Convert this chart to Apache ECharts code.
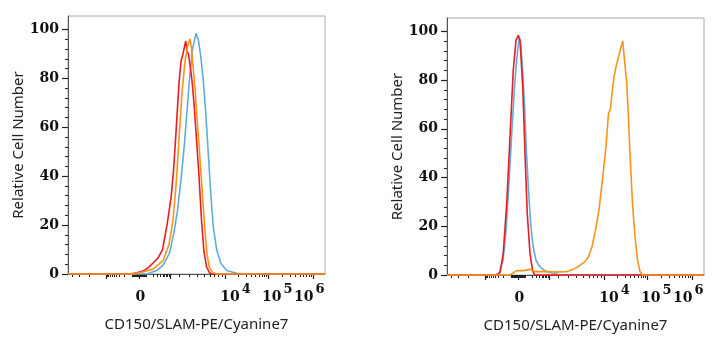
<!DOCTYPE html>
<html>
<head>
<meta charset="utf-8">
<script src="https://cdn.jsdelivr.net/npm/echarts@6/dist/echarts.min.js"></script>
<style>
  html, body { margin: 0; background: #fff; }
  #chart { width: 722px; height: 350px; }
</style>
</head>
<body>
<div id="chart"></div>
<script>
// x axis is in display channels (0..1028) of a biexponential scale
const xMax = 1028;
const yMax = 105.5;
// anchors of the biexponential scale: fluorescence value -> channel
const scaleVals = [-1e4, -1000, -100, 100, 1000, 2000, 3000, 1e4, 1e5, 1e6];
const scaleCh = [-70, 152, 256, 312, 408, 444, 484, 630, 802, 982];
const majorTicks = [-1000, 0, 1000, 1e4, 1e5, 1e6];
const labelChannels = [289, 670, 837, 965];
const labelBase = ['0', '10', '10', '10'];
const labelExp = ['', '4', '5', '6'];
const yLabels = [0, 20, 40, 60, 80, 100];
const yMinor = [4, 8, 12, 16, 24, 28, 32, 36, 44, 48, 52, 56, 64, 68, 72, 76, 84, 88, 92, 96];

const xTitle = 'CD150/SLAM-PE/Cyanine7';
const yTitle = 'Relative Cell Number';

// left panel: [channel, relative count]
const leftBlue = [[0,0],[315,0],[355,1.4],[381,3.7],[406,8.5],[424,17],[438,26],[452,38.5],[466,53.5],[477,68],[487,80.8],[498,91.8],[512,98.4],[521,95.9],[531,89],[541,79.5],[551,65.8],[561,49.5],[571,33],[581,19.4],[595,9.8],[611,4.4],[635,1.4],[675,0.3],[715,0],[1028,0]];
const leftRed = [[0,0],[248,0],[276,0.5],[300,1.2],[320,2.5],[340,4.5],[360,6.5],[378,10],[396,20],[412,31],[422,42],[432,58],[444,78],[452,87],[460,90],[466,93],[471,95.3],[476,91],[482,90],[490,84],[496,79],[504,70],[514,55],[524,40],[534,22],[544,9],[554,3],[566,0.5],[576,0],[1028,0]];
const leftOrange = [[0,0],[260,0],[300,0.8],[340,2],[380,5.5],[404,12],[420,22],[432,36],[444,55],[456,74],[468,87],[478,93],[488,96.2],[494,92],[500,85],[508,76],[516,64],[526,50],[536,35],[546,20],[556,8],[566,2.5],[580,0.5],[600,0],[1028,0]];

// right panel
const rightBlue = [[0,0],[192,0],[208,0.5],[224,6],[236,18],[248,38],[260,60],[272,80],[282,92],[290,97.5],[296,94],[302,85],[310,70],[318,50],[326,35],[334,22],[344,12],[356,6],[372,3.2],[396,1.5],[420,0.8],[452,0],[1028,0]];
const rightRed = [[0,0],[196,0],[212,1],[225,8.9],[239,29.5],[252,56.7],[265,84],[276,96.3],[285,98.4],[292,96.3],[303,77.2],[312,49.8],[321,25.3],[332,8.9],[343,1.4],[352,0],[1028,0]];
const rightOrange = [[0,0],[252,0],[279,1.8],[305,1.8],[332,2.3],[352,1.4],[392,1.5],[432,1.2],[479,1.4],[504,2.3],[524,3.4],[552,5.5],[566,7.5],[580,11.6],[594,18.4],[608,26.6],[620,37.6],[636,52.6],[646,66.3],[654,68.3],[660,74.4],[668,81.3],[676,85.4],[686,89.5],[696,93.6],[703,96.1],[710,88.1],[718,79.9],[724,69],[732,49.8],[742,29.3],[752,15.7],[762,6.2],[772,1.4],[782,0],[1028,0]];

const colors = { blue: '#62acd9', red: '#ec1c24', orange: '#f7941d' };

function toCh(v) {
  if (Math.abs(v) <= 100) return 284 + v * 0.28;
  const t = x => Math.sign(x) * Math.log10(Math.abs(x));
  for (let i = 0; i < scaleVals.length - 1; i++) {
    const a = scaleVals[i], b = scaleVals[i + 1];
    if (v >= a && v <= b) {
      const f = (t(v) - t(a)) / (t(b) - t(a));
      return scaleCh[i] + f * (scaleCh[i + 1] - scaleCh[i]);
    }
  }
  return null;
}

const inRange = c => c != null && c >= 0 && c <= xMax;
const majorCh = majorTicks.map(toCh).filter(inRange);
const minorCh = [];
for (let e = 1; e <= 5; e++) {
  for (let k = 1; k <= 9; k++) {
    const v = k * Math.pow(10, e);
    if (majorTicks.includes(v)) continue;
    [v, -v].forEach(w => { const c = toCh(w); if (inRange(c)) minorCh.push(c); });
  }
}

const serif = 'DejaVu Serif';
const sans = 'Noto Sans';
const tickColor = '#222';

const grids = [
  { left: 68, top: 16, width: 257, height: 258 },
  { left: 447, top: 18, width: 257, height: 257 }
];

const xAxes = [];
const yAxes = [];
grids.forEach((g, i) => {
  xAxes.push({
    gridIndex: i, type: 'value', min: 0, max: xMax, position: 'bottom',
    name: xTitle, nameLocation: 'middle', nameGap: 43,
    nameTextStyle: { fontFamily: sans, fontSize: 15, color: '#222' },
    axisLine: { show: true, lineStyle: { color: '#555' } },
    axisTick: { show: true, length: 5, customValues: majorCh, lineStyle: { color: tickColor, width: 1.2 } },
    axisLabel: {
      customValues: labelChannels, margin: 13,
      formatter: v => {
        const k = labelChannels.indexOf(v);
        if (k < 0) return '';
        return labelExp[k] ? '{b|' + labelBase[k] + '}{s|' + labelExp[k] + '}' : '{b|' + labelBase[k] + '}';
      },
      rich: {
        b: { fontFamily: serif, fontWeight: 'bold', fontSize: 14, color: '#111', lineHeight: 14, padding: [7, 0, 0, 0] },
        s: { fontFamily: serif, fontWeight: 'bold', fontSize: 13, color: '#111', lineHeight: 13, padding: [0, 0, 8, 2] }
      }
    },
    splitLine: { show: false }
  });
  xAxes.push({
    gridIndex: i, type: 'value', min: 0, max: xMax, position: 'bottom',
    axisLine: { show: false },
    axisTick: { show: true, length: 3, customValues: minorCh, lineStyle: { color: tickColor } },
    axisLabel: { show: false },
    splitLine: { show: false }
  });
  yAxes.push({
    gridIndex: i, type: 'value', min: 0, max: yMax,
    name: yTitle, nameLocation: 'middle', nameGap: 39,
    nameTextStyle: { fontFamily: sans, fontSize: 15, color: '#222' },
    axisLine: { show: true, lineStyle: { color: '#555' } },
    axisTick: { show: true, length: 6, customValues: yLabels, lineStyle: { color: tickColor, width: 1.2 } },
    axisLabel: { customValues: yLabels, fontFamily: serif, fontWeight: 'bold', fontSize: 14, color: '#111', margin: 9 },
    splitLine: { show: false }
  });
  yAxes.push({
    gridIndex: i, type: 'value', min: 0, max: yMax, position: 'left',
    axisLine: { show: false },
    axisTick: { show: true, length: 3, customValues: yMinor, lineStyle: { color: tickColor } },
    axisLabel: { show: false },
    splitLine: { show: false }
  });
});

const panels = [
  [leftBlue, leftRed, leftOrange],
  [rightBlue, rightRed, rightOrange]
];
const names = ['blue', 'red', 'orange'];
const series = [];
panels.forEach((p, i) => {
  p.forEach((d, j) => {
    series.push({
      type: 'line', data: d, xAxisIndex: 2 * i, yAxisIndex: 2 * i,
      showSymbol: false, symbol: 'none', clip: false,
      lineStyle: { color: colors[names[j]], width: 1.6 }
    });
  });
});

const chart = echarts.init(document.getElementById('chart'));
chart.setOption({
  animation: false,
  backgroundColor: '#fff',
  grid: grids.map(g => Object.assign({ show: true, borderColor: '#a8a8a8', borderWidth: 1 }, g)),
  xAxis: xAxes,
  yAxis: yAxes,
  series: series
});
</script>
</body>
</html>
